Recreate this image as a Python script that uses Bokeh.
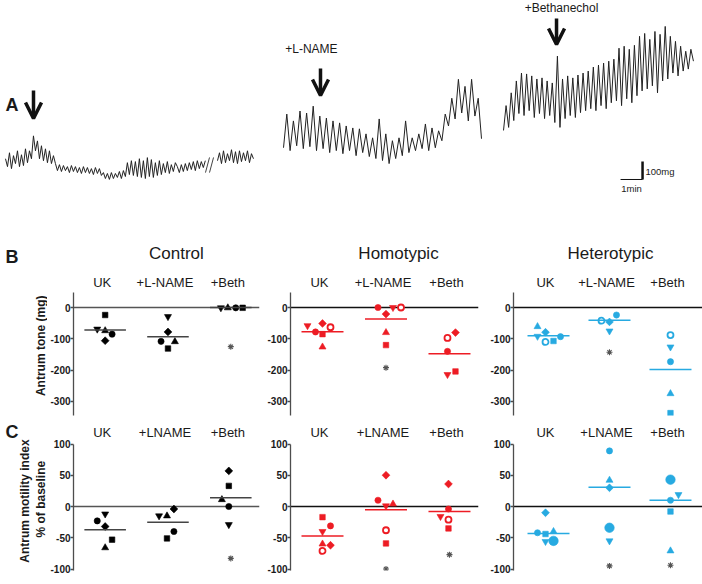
import numpy as np
from bokeh.plotting import figure
from bokeh.layouts import column, row
from bokeh.models import Range1d, FixedTicker, Arrow, OpenHead, ColumnDataSource
from bokeh.embed import file_html
from bokeh.resources import INLINE
from bokeh.core.properties import value

FONT = "Liberation Sans"
RED = "#ed1c24"
BLUE = "#27aae1"
INK = "#1a1a1a"

# ------------------------------------------------------------------
# Panel A : antrum force recordings (mg), sampled at fixed intervals
# ------------------------------------------------------------------
trace1_left_mg = [121, 77, 154, 66, 138, 94, 165, 77, 143, 83, 176, 99, 165, 121,
                  248,
                  165, 220, 121, 193, 110, 176, 99, 165, 94, 138,
                  94, 55, 88, 50, 83, 55, 77, 44, 83, 50, 77, 44, 72, 39, 77, 44, 72, 39, 66, 33, 72, 39, 66, 28,
                  44, 11, 39, 6, 44, 11, 39, 17, 50, 11, 55, 22,
                  99, 33, 110, 28, 105, 22, 121, 17, 110, 11, 127, 22, 116, 17, 99, 28, 110, 33, 94, 44, 105, 39, 88, 50, 99,
                  77, 44, 88, 50, 94, 55, 99, 61, 105, 55, 110, 66, 105, 72, 110]
trace1_right_mg = [110, 154, 94, 165, 99, 149, 110, 171, 99, 160, 94, 165, 105, 154, 110, 165, 99, 149, 121]
trace2_mg = [99, 286, 83, 248, 110, 303, 94, 292, 105, 330,
             83, 275, 94, 264, 72, 248, 83, 237, 66, 220,
             83, 209, 55, 204, 72, 176, 50, 154, 39, 259,
             28, 176, 11, 138, 39, 154, 55, 248, 72, 154,
             83, 176, 94, 231, 83, 209, 99, 193, 138, 286,
             220, 374, 259, 479, 292, 440, 248, 479, 275, 374,
             149]
trace3_mg = [0, 138, 17, 209, 55, 275, 94, 319, 83, 314,
             110, 303, 72, 286, 94, 292, 66, 275, 83, 264,
             44, 413, 17, 286, 66, 303, 83, 292, 72, 308,
             99, 319, 110, 330, 121, 352, 110, 363, 138, 374,
             121, 385, 154, 396, 165, 457, 138, 468, 176, 451,
             154, 473, 193, 523, 220, 539, 231, 506, 248, 550,
             209, 534, 275, 578, 286, 523, 319, 495, 303, 468,
             330, 440, 341, 451, 385]
trace1_dt_s = 5.45
trace2_dt_s = 9.0
trace3_dt_s = 7.0
drug_labels = ["+L-NAME", "+Bethanechol"]
scale_mg = 100
scale_s = 60

# ------------------------------------------------------------------
# Panels B (tone, mg) and C (motility index, % of baseline)
# marker codes: sq square, tu triangle, td inverted triangle, ci circle,
#               di diamond, oc open circle, bc large circle
# ------------------------------------------------------------------
groups = ["Control", "Homotypic", "Heterotypic"]
tone_conditions = ["UK", "+L-NAME", "+Beth"]
motility_conditions = ["UK", "+LNAME", "+Beth"]
tone_ticks = [0, -100, -200, -300]
motility_ticks = [100, 50, 0, -50, -100]

tone_control = [[-24, -69, -74, -85, -106], [-29, -78, -108, -109, -131], [-1, -1, -1, -1]]
tone_control_mk = [["sq", "td", "tu", "ci", "di"], ["td", "di", "ci", "tu", "sq"], ["td", "tu", "ci", "sq"]]
tone_control_mean = [-72, -93, 0]
tone_control_star = [None, None, -125]

tone_homo = [[-58, -78, -51, -85, -63, -126], [0, 0, 0, -21, -80, -120], [-97, -80, -140, -214, -204]]
tone_homo_mk = [["td", "ci", "di", "sq", "oc", "tu"], ["ci", "td", "oc", "di", "tu", "sq"], ["oc", "di", "ci", "td", "sq"]]
tone_homo_mean = [-77, -37, -148]
tone_homo_star = [None, -192, None]

tone_hetero = [[-61, -92, -79, -110, -107, -93], [-42, -46, -24, -75], [-88, -126, -173, -275, -337]]
tone_hetero_mk = [["tu", "td", "di", "oc", "sq", "ci"], ["oc", "di", "ci", "td"], ["oc", "td", "ci", "tu", "sq"]]
tone_hetero_mean = [-90, -41, -198]
tone_hetero_star = [None, -143, None]

mot_control = [[-12, -23, -32, -53, -66], [-15, -15, -4, -40, -51], [57, 33, 11, 0, -29]]
mot_control_mk = [["td", "ci", "di", "sq", "tu"], ["td", "tu", "di", "ci", "sq"], ["di", "sq", "tu", "ci", "td"]]
mot_control_mean = [-37, -25, 14]
mot_control_star = [None, None, -83]

mot_homo = [[-17, -31, -40, -60, -62, -71], [50, 10, 1, 4, -38, -59], [36, -4, -16, -21, -35]]
mot_homo_mk = [["sq", "ci", "td", "tu", "di", "oc"], ["di", "ci", "td", "tu", "oc", "sq"], ["di", "ci", "td", "oc", "sq"]]
mot_homo_mean = [-47, -5, -8]
mot_homo_star = [None, -100, -77]

mot_hetero = [[-10, -42, -44, -40, -56, -55], [89, 42, 30, -34, -55], [43, 19, 10, -8, -71]]
mot_hetero_mk = [["di", "ci", "sq", "tu", "td", "bc"], ["ci", "tu", "di", "bc", "td"], ["bc", "td", "ci", "sq", "tu"]]
mot_hetero_mean = [-43, 31, 10]
mot_hetero_star = [None, -95, -94]

# ---------------- layout-only settings (pixel jitter, placement) ----------------
tone_jit = [
    [[0, -8, 0, 7, 0], [0, 0, -7, 7, 0], [-10, -3, 5, 12]],
    [[-15, -7, 0, 0, 8, 0], [-8, 7, 15, 0, 0, 0], [-2, 6, -2, -2, 6]],
    [[-11, -11, -3, -3, 5, 12], [-8, 0, 7, 0], [0, 0, 0, 0, 0]],
]
mot_jit = [
    [[0, -8, 0, 7, 0], [-9, -1, 6, 6, -1], [-2, -2, -9, -2, -2]],
    [[0, 8, 0, 0, 8, 0], [0, -8, 0, 7, 0, 0], [-1, -1, -9, -1, -1]],
    [[-3, -11, -3, 5, -3, 5], [0, 0, 0, 0, 0], [0, 8, 0, 0, 0]],
]
LEFT_W = 47
COLS = [
    dict(width=215, left=24, right=3, x0=-0.504, x1=2.457, ppu=63.5, title_x=1.134),
    dict(width=222, left=28, right=6, x0=-0.504, x1=2.457, ppu=63.5, title_x=1.197),
    dict(width=218, left=29, right=0, x0=-0.574, x1=2.525, ppu=61.0, title_x=1.016),
]
MK = {"sq": ("square", 0.0, 5.5), "td": ("inverted_triangle", 0.0, 7.0),
      "tu": ("triangle", 0.0, 7.0), "ci": ("circle", 0.0, 6.2),
      "di": ("square", np.pi / 4, 5.5), "oc": ("circle", 0.0, 6.0),
      "bc": ("circle", 0.0, 9.5)}


def style_y(p, ticks, bounds):
    ax = p.yaxis[0]
    ax.ticker = FixedTicker(ticks=ticks)
    ax.bounds = bounds
    ax.major_label_overrides = {t: str(t) for t in ticks}
    ax.major_label_text_font = FONT
    ax.major_label_text_font_size = "10px"
    ax.major_label_text_font_style = "bold"
    ax.major_label_text_color = INK
    ax.major_label_standoff = 0
    ax.major_tick_out = 3
    ax.major_tick_in = 0
    ax.minor_tick_out = 0
    ax.minor_tick_in = 0
    ax.axis_line_color = "#4d4d4d"
    ax.axis_line_width = 1.3
    ax.major_tick_line_color = "#4d4d4d"
    ax.major_tick_line_width = 1.3


def txt(p, x, y, s, size, bold=False, align="center", baseline="middle", angle=0.0, color=INK, xo=0):
    p.text(x=x, y=y, text=s, angle=angle, x_offset=xo, text_font=value(FONT), text_font_size=size,
           text_font_style="bold" if bold else "normal", text_align=align,
           text_baseline=baseline, text_color=color)


def bare(width, height, xr, yr):
    p = figure(width=width, height=height, title=None, x_range=Range1d(*xr), y_range=Range1d(*yr),
               x_axis_location=None, y_axis_location=None, output_backend="svg",
               toolbar_location=None, min_border_left=0, min_border_right=0,
               min_border_top=0, min_border_bottom=0)
    p.outline_line_color = None
    p.grid.visible = False
    return p


def panel(col, height, bottom, yr, ticks, bounds, values, markers, jit, means, stars,
          color, mean_color, zero_color, conds, label_y, title=None, title_y=None):
    c = COLS[col]
    p = figure(width=c["width"], height=height, title=None,
               x_range=Range1d(c["x0"], c["x1"]), y_range=Range1d(*yr),
               x_axis_location=None, output_backend="svg", toolbar_location=None,
               min_border_left=c["left"], min_border_right=c["right"],
               min_border_top=0, min_border_bottom=bottom)
    p.outline_line_color = None
    p.grid.visible = False
    style_y(p, ticks, bounds)
    p.segment(x0=[c["x0"]], x1=[c["x1"]], y0=[0], y1=[0], line_color=zero_color, line_width=1.4)
    xs, ys, mk, ang, sz, fc, lw = [], [], [], [], [], [], []
    for i, (vals, mks, offs) in enumerate(zip(values, markers, jit)):
        for v, m, o in zip(vals, mks, offs):
            name, a, s = MK[m]
            xs.append(i + o / c["ppu"]); ys.append(v); mk.append(name)
            ang.append(a); sz.append(s)
            fc.append("white" if m == "oc" else color)
            lw.append(1.8 if m == "oc" else 0.6)
    src = ColumnDataSource(dict(x=xs, y=ys, marker=mk, angle=ang, size=sz, fill=fc, lw=lw))
    p.scatter("x", "y", source=src, marker="marker", angle="angle", size="size",
              fill_color="fill", line_color=color, line_width="lw")
    hw = 21 / c["ppu"]
    idx = list(range(len(means)))
    p.segment(x0=[i - hw for i in idx], x1=[i + hw for i in idx], y0=means, y1=means,
              line_color=mean_color, line_width=1.5)
    sx = [i for i, s in enumerate(stars) if s is not None]
    sy = [s for s in stars if s is not None]
    p.scatter(sx, sy, marker="asterisk", size=6, line_color="#555555", line_width=1.1)
    txt(p, idx, [label_y] * 3, conds, "13px", xo=-3)
    if title:
        txt(p, [c["title_x"]], [title_y], [title], "17px")
    return p


B_YR = (-344.7, 204.3)
C_YR = (-102.4, 140.8)
colors = [("black", "#444444", "#555555"), (RED, RED, "#111111"), (BLUE, BLUE, "#111111")]

tone_sets = [(tone_control, tone_control_mk, tone_control_mean, tone_control_star),
             (tone_homo, tone_homo_mk, tone_homo_mean, tone_homo_star),
             (tone_hetero, tone_hetero_mk, tone_hetero_mean, tone_hetero_star)]
mot_sets = [(mot_control, mot_control_mk, mot_control_mean, mot_control_star),
            (mot_homo, mot_homo_mk, mot_homo_mean, mot_homo_star),
            (mot_hetero, mot_hetero_mk, mot_hetero_mean, mot_hetero_star)]

# left strips hold the panel letters and the y-axis titles (pixel-like coordinates, y downward)
b_left = bare(LEFT_W, 175, (0, LEFT_W), (175, 0))
txt(b_left, [5], [13.5], ["B"], "18px", bold=True, align="left")
txt(b_left, [40], [104], ["Antrum tone (mg)"], "12px", bold=True, angle=np.pi / 2)
c_left = bare(LEFT_W, 162, (0, LEFT_W), (162, 0))
txt(c_left, [5], [14], ["C"], "18px", bold=True, align="left")
txt(c_left, [24.5], [88], ["Antrum motility index"], "12px", bold=True, angle=np.pi / 2)
txt(c_left, [40.5], [86], ["% of baseline"], "12px", bold=True, angle=np.pi / 2)

brow, crow = [b_left], [c_left]
for k in range(3):
    v, m, mn, st = tone_sets[k]
    col, mcol, zcol = colors[k]
    brow.append(panel(k, 175, 3, B_YR, tone_ticks, (-345, 48), v, m, tone_jit[k], mn, st,
                      col, mcol, zcol, tone_conditions, 79.8, groups[k], 172.4))
    v, m, mn, st = mot_sets[k]
    crow.append(panel(k, 162, 10, C_YR, motility_ticks, (-102.4, 100), v, m, mot_jit[k], mn, st,
                      col, mcol, zcol, motility_conditions, 118.4))

# ---------------- Panel A figure ----------------
pa = bare(702, 243, (0, 1914.5), (0, 1350))

traces = [(trace1_left_mg, 13.6, trace1_dt_s, 350.0),
          (trace1_right_mg, 591.8, trace1_dt_s, 350.0),
          (trace2_mg, 771.8, trace2_dt_s, 433.0),
          (trace3_mg, 1371.8, trace3_dt_s, 628.0)]
for vals, t0, dt, base in traces:
    t = t0 + dt * np.arange(len(vals))
    pa.line(t, base + np.array(vals, dtype=float), line_color="#222222", line_width=1.0)

# time-break marks between the two parts of the first recording
pa.segment(x0=[559, 570], y0=[394, 394], x1=[570, 581], y1=[478, 478],
           line_color="#444444", line_width=1)

arrows = [(90, 850, 694), (872.7, 972, 822), (1516.4, 1250, 1106)]
for ax_, y0, y1 in arrows:
    pa.add_layout(Arrow(end=OpenHead(size=16, line_width=3.5, line_color="#111111"),
                        x_start=ax_, y_start=y0, x_end=ax_, y_end=y1,
                        line_width=3.5, line_color="#111111"))

txt(pa, [848, 1530], [1083, 1311], drug_labels, "12px")
txt(pa, [13.6], [769], ["A"], "18px", bold=True, align="left")

# scale bar
sb_x, sb_y = 1751, 355.6
pa.segment(x0=[sb_x - scale_s], y0=[sb_y], x1=[sb_x], y1=[sb_y], line_color="#111111", line_width=1)
pa.segment(x0=[sb_x], y0=[sb_y], x1=[sb_x], y1=[sb_y + scale_mg], line_color="#111111", line_width=2.5)
txt(pa, [sb_x + 8], [sb_y + 45], [f"{scale_mg}mg"], "9.5px", align="left")
txt(pa, [sb_x - scale_s / 2], [sb_y - 50], ["1min"], "9.5px")

layout = column(pa, row(*brow), row(*crow))
open("out.html", "w").write(file_html(layout, INLINE))
